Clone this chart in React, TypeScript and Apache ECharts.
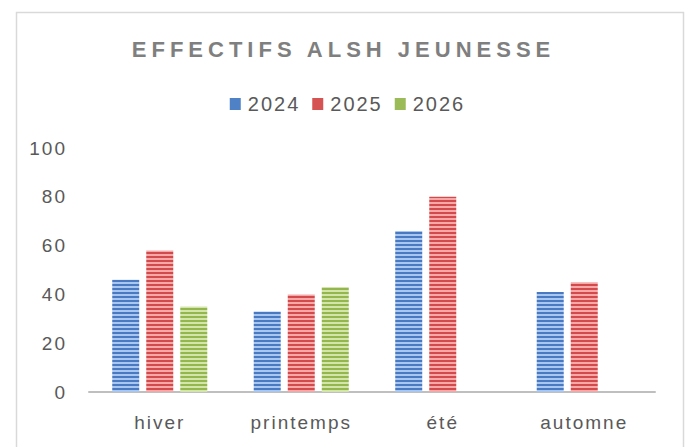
import React, { useEffect, useRef } from "react";
import * as echarts from "echarts";

const categories = ["hiver", "printemps", "été", "automne"];
const seriesNames = ["2024", "2025", "2026"];
const values2024 = [46, 33, 66, 41];
const values2025 = [58, 40, 80, 45];
const values2026: (number | null)[] = [35, 43, null, null];
const titleText = "EFFECTIFS ALSH JEUNESSE";

const palette = [
  { dark: "#4879c2", light: "#a9c6ee", legend: "#4f81c7" },
  { dark: "#d44a4a", light: "#f3a9a9", legend: "#d65353" },
  { dark: "#93b74c", light: "#d3e5aa", legend: "#9bbb59" },
];

function stripes(dark: string, light: string) {
  const H = 447;
  const period = 4;
  const stops: { offset: number; color: string }[] = [];
  for (let y = 0; y < H; y += period) {
    const a = y / H;
    const b = (y + 2.4) / H;
    const c = (y + period) / H;
    stops.push({ offset: a, color: dark });
    stops.push({ offset: Math.min(b, 1), color: dark });
    stops.push({ offset: Math.min(b, 1), color: light });
    stops.push({ offset: Math.min(c, 1), color: light });
  }
  return new echarts.graphic.LinearGradient(0, 0, 0, H, stops, true);
}

export default function App() {
  const ref = useRef<HTMLDivElement>(null);
  useEffect(() => {
    if (!ref.current) return;
    const chart = echarts.init(ref.current, undefined, { renderer: "svg" });
    const data = [values2024, values2025, values2026];
    chart.setOption({
      animation: false,
      backgroundColor: "#ffffff",
      textStyle: { fontFamily: "Liberation Sans, Arial, sans-serif" },
      graphic: [
        {
          type: "rect",
          left: 14,
          top: 10,
          shape: { width: 667, height: 460 },
          style: { fill: "none", stroke: "#d9d9d9", lineWidth: 1.5 },
          z: -1,
        },
      ],
      title: {
        text: titleText,
        left: "center",
        top: 33,
        textStyle: {
          fontSize: 22,
          fontWeight: "bold",
          color: "#7f7f7f",
          fontFamily: "Liberation Sans, Arial, sans-serif",
        },
      },
      legend: {
        top: 89,
        left: "center",
        itemWidth: 11,
        itemHeight: 12,
        itemGap: 20,
        icon: "rect",
        textStyle: { fontSize: 20, color: "#595959", padding: [0, 0, 0, 2] },
        data: seriesNames.map((n, i) => ({
          name: n,
          itemStyle: { color: palette[i].legend },
        })),
      },
      grid: { left: 89, right: 32, top: 148, bottom: 55, containLabel: false },
      xAxis: {
        type: "category",
        data: categories,
        axisLine: { lineStyle: { color: "#bfbfbf", width: 2 } },
        axisTick: { show: false },
        axisLabel: { fontSize: 19, color: "#595959", margin: 21 },
      },
      yAxis: {
        type: "value",
        min: 0,
        max: 100,
        interval: 20,
        splitLine: { show: false },
        axisLine: { show: false },
        axisTick: { show: false },
        axisLabel: { fontSize: 19, color: "#595959", margin: 22 },
      },
      series: seriesNames.map((n, i) => ({
        name: n,
        type: "bar",
        data: data[i],
        barWidth: 27,
        barGap: "26%",
        itemStyle: { color: stripes(palette[i].dark, palette[i].light) },
      })),
    });
    return () => chart.dispose();
  }, []);
  return (
    <>
      <style>{`
        .chartbox text { letter-spacing: 2px; }
        .chartbox text[style*="bold"] { letter-spacing: 5px; }
      `}</style>
      <div
        ref={ref}
        className="chartbox"
        style={{ position: "absolute", left: 0, top: 0, width: 687, height: 447 }}
      />
    </>
  );
}
